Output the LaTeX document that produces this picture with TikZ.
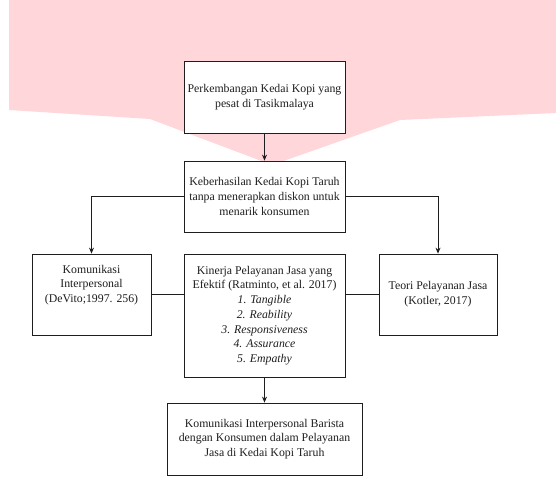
\documentclass[tikz,border=0pt]{standalone}
\usepackage{fontspec}
\setmainfont{Liberation Serif}
\usetikzlibrary{arrows.meta}
\definecolor{wm}{RGB}{255,214,217}
\definecolor{ink}{RGB}{30,30,30}
\tikzset{
  box/.style={draw=ink, fill=white, line width=0.8pt, rectangle, inner sep=0pt, align=center,
    text=ink, font=\fontsize{11.8}{14.7}\selectfont},
  txt/.style={inner sep=0pt, align=center, text=ink, font=\fontsize{11.8}{14.7}\selectfont},
  conn/.style={draw=ink, line width=0.8pt},
  arr/.style={conn, -{Stealth[length=6pt,width=5pt]}}
}
\begin{document}
\begin{tikzpicture}[x=1pt,y=1pt]
\useasboundingbox (0,0) rectangle (556,480);
\fill[white] (0,0) rectangle (556,480);
\fill[wm] (9,480) -- (556,480) -- (556,367) -- (400,360) -- (272,315) -- (150,361) -- (9,370) -- cycle;

\node[box, minimum width=161pt, minimum height=72pt] (b1) at (264.5,383)
  {Perkembangan Kedai Kopi yang\\pesat di Tasikmalaya};
\node[box, minimum width=161pt, minimum height=71pt] (b2) at (264.5,283.5)
  {Keberhasilan Kedai Kopi Taruh\\tanpa menerapkan diskon untuk\\menarik konsumen};
\node[box, minimum width=119pt, minimum height=81pt] (b3) at (91.5,185.5) {};
\node[txt] (t3) at ([yshift=9.5pt]b3.center)
  {Komunikasi\\Interpersonal\\(DeVito;1997. 256)};
\node[box, minimum width=161pt, minimum height=123pt] (b4) at (264.5,164.5)
  {Kinerja Pelayanan Jasa yang\\Efektif (Ratminto, et al. 2017)\\
   \textit{1. Tangible}\\\textit{2. Reability}\\\textit{3. Responsiveness}\\
   \textit{4. Assurance}\\\textit{5. Empathy}};
\node[box, minimum width=118pt, minimum height=81pt] (b5) at (438,185.5)
  {Teori Pelayanan Jasa\\(Kotler, 2017)};
\node[box, minimum width=195pt, minimum height=72pt] (b6) at (264.5,41)
  {Komunikasi Interpersonal Barista\\dengan Konsumen dalam Pelayanan\\Jasa di Kedai Kopi Taruh};

\draw[arr] (b1.south) -- (b2.north);
\draw[arr] (b2.west) -| (b3.north);
\draw[arr] (b2.east) -| (b5.north);
\draw[conn] (b3.east) -- (b3.east -| b4.west);
\draw[conn] (b5.west) -- (b5.west -| b4.east);
\draw[arr] (b4.south) -- (b6.north);
\end{tikzpicture}
\end{document}
